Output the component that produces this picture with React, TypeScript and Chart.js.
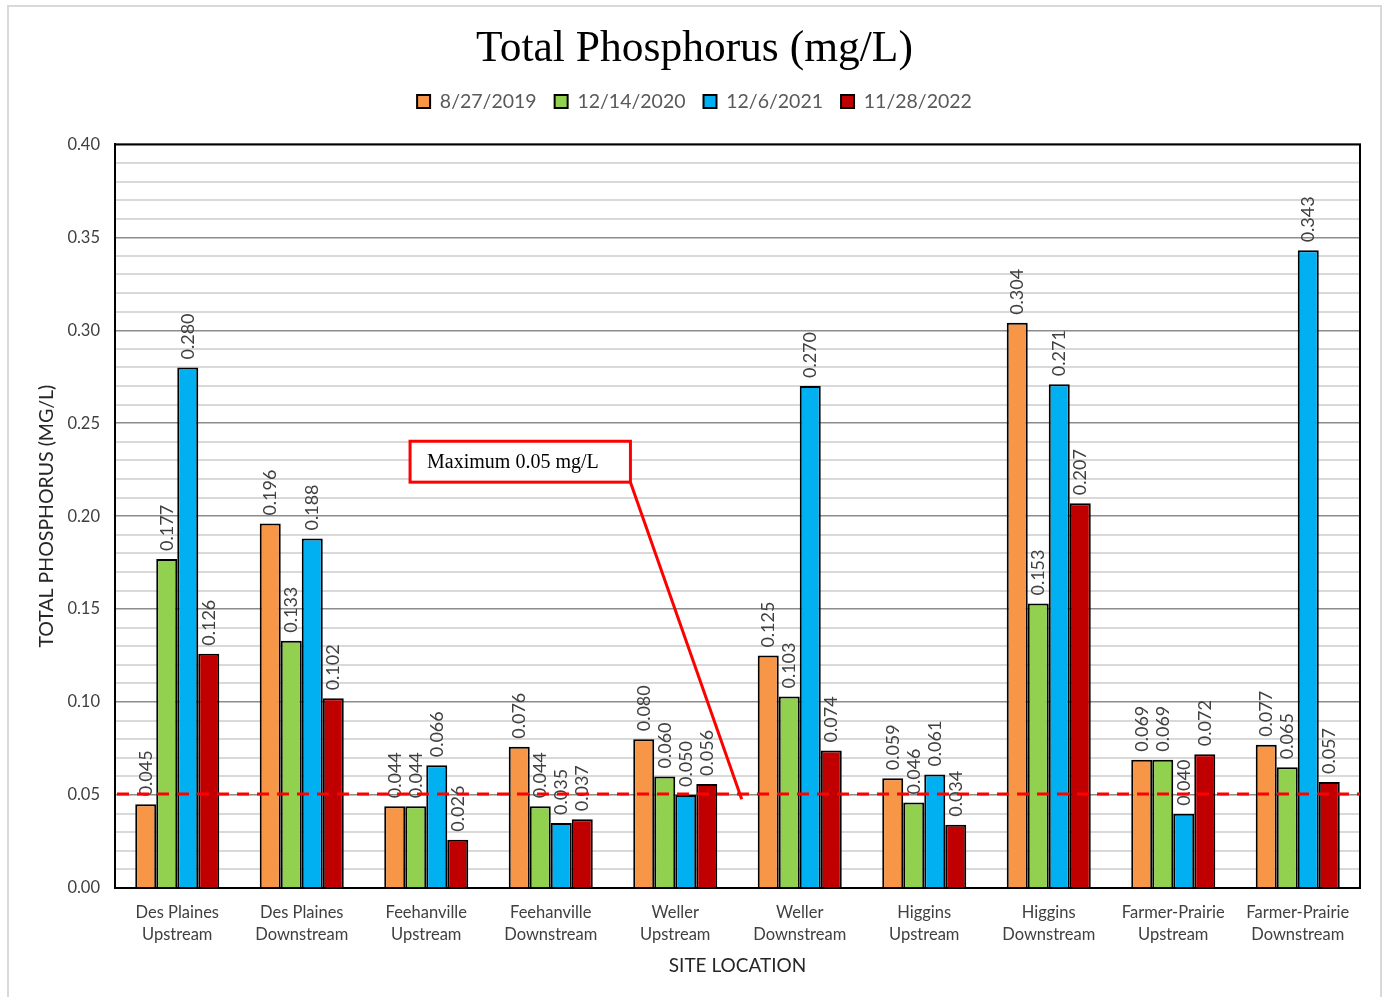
import React, { useEffect, useRef } from 'react';
import { Chart, registerables } from 'chart.js';

Chart.register(...registerables);

const categories: string[][] = [
  ['Des Plaines', 'Upstream'],
  ['Des Plaines', 'Downstream'],
  ['Feehanville', 'Upstream'],
  ['Feehanville', 'Downstream'],
  ['Weller', 'Upstream'],
  ['Weller', 'Downstream'],
  ['Higgins', 'Upstream'],
  ['Higgins', 'Downstream'],
  ['Farmer-Prairie', 'Upstream'],
  ['Farmer-Prairie', 'Downstream'],
];

const seriesNames = ['8/27/2019', '12/14/2020', '12/6/2021', '11/28/2022'];
const values2019 = [0.045, 0.196, 0.044, 0.076, 0.08, 0.125, 0.059, 0.304, 0.069, 0.077];
const values2020 = [0.177, 0.133, 0.044, 0.044, 0.06, 0.103, 0.046, 0.153, 0.069, 0.065];
const values2021 = [0.28, 0.188, 0.066, 0.035, 0.05, 0.27, 0.061, 0.271, 0.04, 0.343];
const values2022 = [0.126, 0.102, 0.026, 0.037, 0.056, 0.074, 0.034, 0.207, 0.072, 0.057];
const seriesColors = ['#F79646', '#92D050', '#00B0F0', '#C00000'];

const Y_MIN = 0;
const Y_MAX = 0.4;
const Y_MINOR_STEP = 0.01;
const LIMIT = 0.05;
const annotationText = 'Maximum 0.05 mg/L';
// annotation box & leader in data coordinates (category index, value)
const annBox = { x0: 1.87, x1: 3.64, yTop: 0.2403, yBottom: 0.2183 };
const annTarget = { x: 4.534, y: 0.0478 };

const LATO = 'Lato, "Noto Sans", sans-serif';

const isMajor = (v: number) => Math.round(v * 100) % 5 === 0;

const extrasPlugin = {
  id: 'extras',
  beforeDatasetsDraw(chart: any) {
    const { ctx, chartArea } = chart;
    ctx.save();
    ctx.strokeStyle = '#000';
    ctx.lineWidth = 2;
    ctx.strokeRect(chartArea.left, chartArea.top, chartArea.right - chartArea.left, chartArea.bottom - chartArea.top);
    ctx.restore();
  },
  afterDatasetsDraw(chart: any) {
    const { ctx, chartArea } = chart;
    const xs = chart.scales.x;
    const ys = chart.scales.y;
    // value labels
    ctx.save();
    ctx.font = `18px ${LATO}`;
    ctx.fillStyle = '#404040';
    ctx.textAlign = 'left';
    ctx.textBaseline = 'middle';
    chart.data.datasets.forEach((ds: any, di: number) => {
      const meta = chart.getDatasetMeta(di);
      meta.data.forEach((el: any, i: number) => {
        const v = ds.data[i];
        ctx.save();
        ctx.translate(el.x, el.y - 8);
        ctx.rotate(-Math.PI / 2);
        ctx.fillText(v.toFixed(3), 0, 0);
        ctx.restore();
      });
    });
    ctx.restore();
    // limit line
    const yy = ys.getPixelForValue(LIMIT) - 1;
    ctx.save();
    ctx.strokeStyle = '#FF0000';
    ctx.lineWidth = 3;
    ctx.setLineDash([12, 8]);
    ctx.beginPath();
    ctx.moveTo(chartArea.left + 2, yy);
    ctx.lineTo(chartArea.right, yy);
    ctx.stroke();
    ctx.restore();
    // annotation
    const bx0 = xs.getPixelForValue(annBox.x0);
    const bx1 = xs.getPixelForValue(annBox.x1);
    const by0 = ys.getPixelForValue(annBox.yTop);
    const by1 = ys.getPixelForValue(annBox.yBottom);
    const tx = xs.getPixelForValue(annTarget.x);
    const ty = ys.getPixelForValue(annTarget.y);
    ctx.save();
    ctx.fillStyle = '#fff';
    ctx.fillRect(bx0, by0, bx1 - bx0, by1 - by0);
    ctx.strokeStyle = '#FF0000';
    ctx.lineWidth = 3;
    ctx.strokeRect(bx0, by0, bx1 - bx0, by1 - by0);
    ctx.beginPath();
    ctx.moveTo(bx1, by1);
    ctx.lineTo(tx, ty);
    ctx.stroke();
    ctx.fillStyle = '#000';
    ctx.font = '20px "Liberation Serif", "Times New Roman", serif';
    ctx.textAlign = 'left';
    ctx.textBaseline = 'middle';
    ctx.fillText(annotationText, bx0 + 17, (by0 + by1) / 2 + 1);
    ctx.restore();
  },
};

export default function App() {
  const ref = useRef<HTMLCanvasElement | null>(null);
  useEffect(() => {
    if (!ref.current) return;
    const all = [values2019, values2020, values2021, values2022];
    const chart = new Chart(ref.current, {
      type: 'bar',
      data: {
        labels: categories,
        datasets: all.map((d, i) => ({
          label: seriesNames[i],
          data: d,
          backgroundColor: seriesColors[i],
          borderColor: '#000',
          borderWidth: 2,
          borderSkipped: 'bottom',
          categoryPercentage: 0.675,
          barPercentage: 1.0,
        })),
      },
      options: {
        responsive: false,
        animation: false,
        devicePixelRatio: 1,
        layout: { padding: { top: 0, left: 0, right: 0, bottom: 0 } },
        plugins: {
          title: {
            display: true,
            text: 'Total Phosphorus (mg/L)',
            color: '#000',
            font: { family: '"Liberation Serif", "Times New Roman", serif', size: 43.5, weight: 'normal', lineHeight: 1.1 },
            padding: { top: 26, bottom: 0 },
          },
          legend: {
            display: true,
            labels: {
              color: '#595959',
              font: { family: LATO, size: 19.5 },
              boxWidth: 13,
              boxHeight: 13,
              padding: 18,
            },
          },
          tooltip: { enabled: false },
        },
        scales: {
          x: {
            grid: { display: false, drawTicks: false },
            border: { display: true, color: '#000', width: 2 },
            ticks: { color: '#404040', font: { family: LATO, size: 16.5, lineHeight: 1.38 }, padding: 13, maxRotation: 0, autoSkip: false },
            title: {
              display: true,
              text: 'SITE LOCATION',
              color: '#262626',
              font: { family: LATO, size: 19 },
              padding: { top: 0, bottom: 20 },
            },
            afterFit: (scale: any) => {
              scale.height = 997 - 888;
            },
          },
          xTop: {
            type: 'linear',
            position: 'top',
            display: true,
            grid: { display: false, drawTicks: false },
            border: { display: false },
            ticks: { display: false },
            afterFit: (scale: any) => {
              scale.height = 23;
            },
          },
          y: {
            min: Y_MIN,
            max: Y_MAX,
            grid: {
              drawTicks: false,
              color: (c: any) => (isMajor(c.tick.value) ? '#8c8c8c' : '#d9d9d9'),
              lineWidth: (c: any) => (isMajor(c.tick.value) ? 1.5 : 2),
            },
            border: { display: true, color: '#000', width: 2 },
            ticks: {
              stepSize: Y_MINOR_STEP,
              autoSkip: false,
              color: '#404040',
              font: { family: LATO, size: 16.5 },
              padding: 15,
              callback: (v: any) => (isMajor(Number(v)) ? Number(v).toFixed(2) : ''),
            },
            title: {
              display: true,
              text: 'TOTAL PHOSPHORUS (MG/L)',
              color: '#262626',
              font: { family: LATO, size: 19.5 },
              padding: { top: 35, bottom: 0 },
            },
            afterFit: (scale: any) => {
              scale.width = 115;
            },
          },
          yRight: {
            type: 'linear',
            position: 'right',
            display: true,
            grid: { display: false, drawTicks: false },
            border: { display: false },
            ticks: { display: false },
            afterFit: (scale: any) => {
              scale.width = 29;
            },
          },
        },
      },
      plugins: [extrasPlugin],
    });
    return () => chart.destroy();
  }, []);

  return (
    <div style={{ position: 'fixed', left: 0, top: 0, width: 1389, height: 997, background: '#fff', overflow: 'hidden' }}>
      <div
        style={{
          position: 'absolute',
          left: 7,
          top: 5,
          width: 1371,
          height: 1010,
          border: '2px solid #d9d9d9',
        }}
      />
      <canvas ref={ref} width={1389} height={997} style={{ position: 'absolute', left: 0, top: 0, width: 1389, height: 997 }} />
    </div>
  );
}
